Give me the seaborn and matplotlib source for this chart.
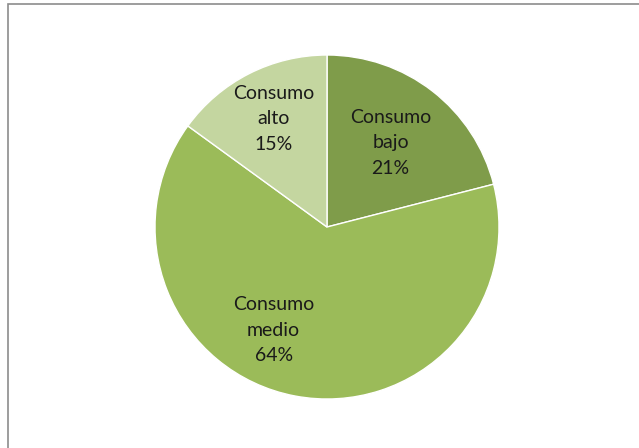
import matplotlib
matplotlib.use("Agg")
import matplotlib.pyplot as plt
import seaborn as sns
import numpy as np
from matplotlib.patches import Rectangle

sns.set_theme(style="white")
plt.rcParams['font.family'] = ['Lato', 'DejaVu Sans']

# data
categories = ["Consumo\nbajo", "Consumo\nmedio", "Consumo\nalto"]
shares = [21, 64, 15]
colors = ["#7F9C4A", "#9BBB59", "#C4D6A0"]

fig = plt.figure(figsize=(6.39, 4.48), dpi=100)
# frame around the chart area (right and bottom edges fall outside the image)
fig.patches.append(Rectangle((8 / 639, -0.1), 2, 0.1 + (448 - 4) / 448, transform=fig.transFigure,
                             fill=False, edgecolor="#8c8c8c", linewidth=1.2))

# pie centre (327, 227) px, radius ~172 px
r = 172
cx, cy = 327, 448 - 227
ax = fig.add_axes([(cx - r) / 639, (cy - r) / 448, 2 * r / 639, 2 * r / 448])
wedges, texts = ax.pie(shares, colors=colors, startangle=90, counterclock=False,
                       radius=1.0, labels=None,
                       wedgeprops=dict(edgecolor="white", linewidth=1.0))
ax.set_xlim(-1, 1)
ax.set_ylim(-1, 1)
ax.set_aspect("equal")

# label positions (relative to radius), as Excel placed them
label_pos = [(0.37, 0.49), (-0.31, -0.60), (-0.31, 0.63)]
for lab, val, (x, y) in zip(categories, shares, label_pos):
    ax.text(x, y, f"{lab}\n{val}%", ha="center", va="center", fontsize=14,
            color="#1a1a1a", linespacing=1.6)

fig.savefig("out.png", dpi=100)
